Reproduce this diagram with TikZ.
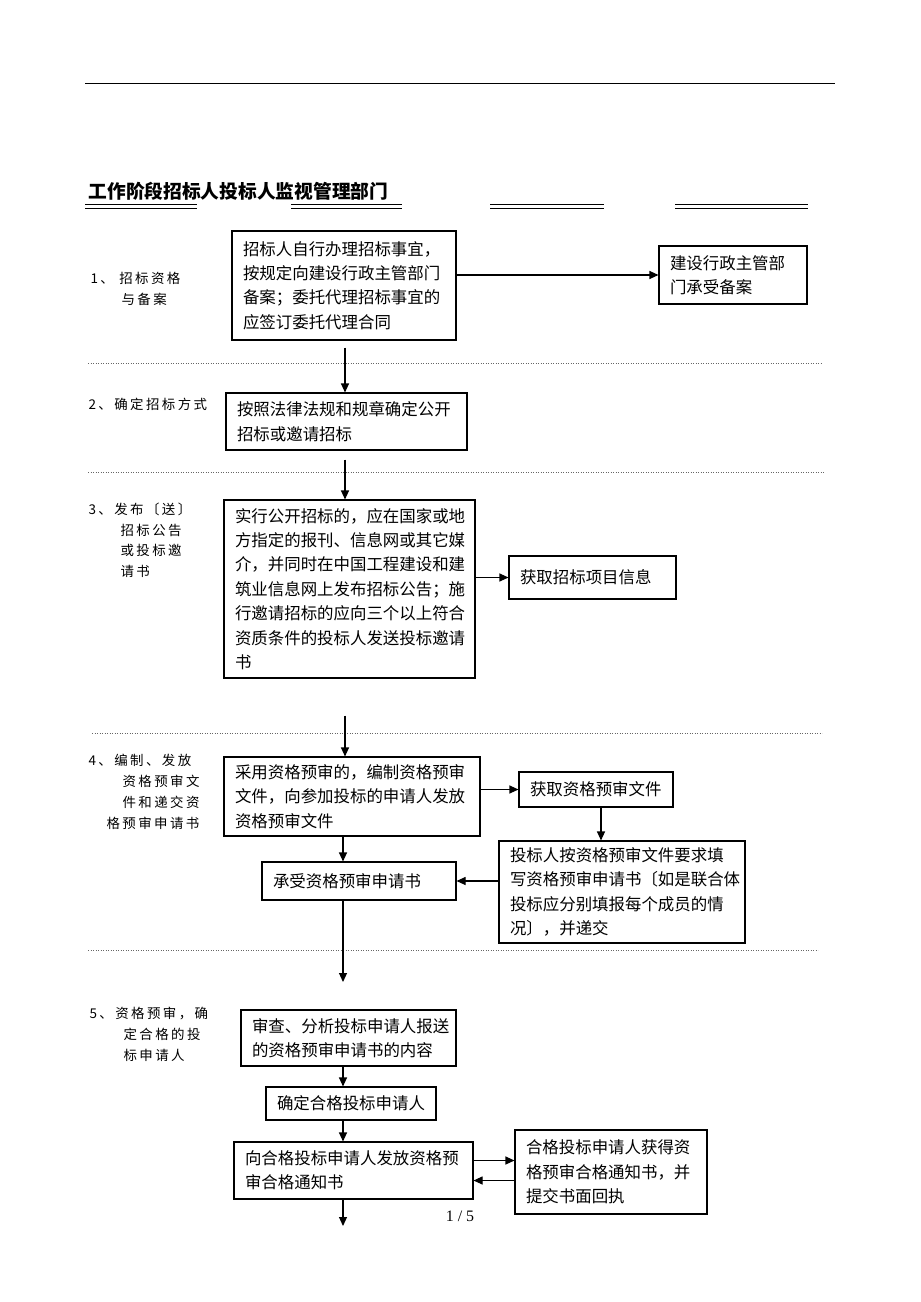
\documentclass[tikz,border=0pt]{standalone}
\usepackage{fontspec}
\setmainfont{Liberation Serif}
\newfontfamily\cjk{Noto Sans CJK SC}
\newfontfamily\cjklbl[LetterSpace=18]{Noto Sans CJK SC}
\usetikzlibrary{arrows.meta}
\begin{document}
\begin{tikzpicture}[x=1bp,y=-1bp,line width=1.1bp,
  box/.style={draw, rectangle, inner xsep=11bp, inner ysep=0pt, align=left,
    font=\cjk\fontsize{16.5}{24.5}\selectfont},
  lbl/.style={inner sep=0pt, anchor=north west, align=left,
    font=\cjklbl\fontsize{13.5}{21}\selectfont},
  sep/.style={line width=0.6bp, gray!80!black, dash pattern=on 1bp off 1.5bp},
  >={Triangle[length=9bp,width=8bp]}]
\fill[white] (0,0) rectangle (920,1302);
\useasboundingbox (0,0) rectangle (920,1302);
\draw[line width=0.8bp] (85,83) -- (835,83);
\node[anchor=base west, inner sep=0pt, font=\cjk\bfseries\fontsize{18.8}{20}\selectfont] (title) at (88,199) {工作阶段招标人投标人监视管理部门};
\foreach \xa/\xb in {85/197, 291/402, 490/604, 675/808} {
  \draw[line width=1.6bp] (\xa,204.5) -- (\xb,204.5);
  \draw[line width=0.9bp] (\xa,208) -- (\xb,208);
}
\draw[sep] (88,363) -- (822,363);
\draw[sep] (88,472) -- (825,472);
\draw[sep] (92,733) -- (822,733);
\draw[sep] (88,950) -- (818,950);
\node[lbl] (lb1) at (90,272) {1、 招标资格\\\hspace*{31bp}与备案};
\node[lbl] (lb2) at (88,398) {2、确定招标方式};
\node[lbl] (lb3) at (88,502) {3、发布〔送〕\\\hspace*{32bp}招标公告\\\hspace*{32bp}或投标邀\\\hspace*{32bp}请书};
\node[lbl] (lb4) at (88,754) {4、编制、发放\\\hspace*{34bp}资格预审文\\\hspace*{34bp}件和递交资\\\hspace*{18bp}格预审申请书};
\node[lbl] (lb5) at (89,1007) {5、资格预审，确\\\hspace*{34bp}定合格的投\\\hspace*{34bp}标申请人};
\node[box, text width=202bp, minimum height=109bp] (m1) at (344,285.5) {招标人自行办理招标事宜，\\按规定向建设行政主管部门\\备案；委托代理招标事宜的\\应签订委托代理合同};
\node[box, text width=126bp, minimum height=58bp] (r1) at (733,275) {建设行政主管部\\门承受备案};
\node[box, text width=219bp, minimum height=57bp] (m2) at (346.5,421.5) {按照法律法规和规章确定公开\\招标或邀请招标};
\node[box, text width=229bp, minimum height=178bp] (m3) at (349.5,589) {实行公开招标的，应在国家或地\\方指定的报刊、信息网或其它媒\\介，并同时在中国工程建设和建\\筑业信息网上发布招标公告；施\\行邀请招标的应向三个以上符合\\资质条件的投标人发送投标邀请\\书};
\node[box, text width=145bp, minimum height=43bp] (r3) at (592.5,577.5) {获取招标项目信息};
\node[box, text width=234bp, minimum height=79bp] (m4) at (352,796.5) {采用资格预审的，编制资格预审\\文件，向参加投标的申请人发放\\资格预审文件};
\node[box, text width=132bp, minimum height=35bp] (r4a) at (596,789.5) {获取资格预审文件};
\node[box, text width=224bp, minimum height=102bp] (r4b) at (622,892) {投标人按资格预审文件要求填\\写资格预审申请书〔如是联合体\\投标应分别填报每个成员的情\\况〕，并递交};
\node[box, text width=172bp, minimum height=38bp] (c4) at (359,881) {承受资格预审申请书};
\node[box, text width=193bp, minimum height=56bp] (m5) at (348.5,1038) {审查、分析投标申请人报送\\的资格预审申请书的内容};
\node[box, text width=148bp, minimum height=33bp] (m6) at (351,1103.5) {确定合格投标申请人};
\node[box, text width=217bp, minimum height=57bp] (m7) at (353.5,1170.5) {向合格投标申请人发放资格预\\审合格通知书};
\node[box, text width=170bp, minimum height=84bp] (r5) at (611,1172) {合格投标申请人获得资\\格预审合格通知书，并\\提交书面回执};
\node[inner sep=0pt, font=\fontsize{16}{18}\selectfont] (pg) at (460,1216) {1 / 5};
\coordinate (sa) at (345,0);
\coordinate (sb) at (343,0);
\coordinate (sc) at (601,0);
\coordinate (e4) at (343,982);
\coordinate (e5) at (343,1226);
\draw[->] (m1.east |- r1.west) -- (r1.west);
\draw[->, shorten <=7bp] (m1.south -| sa) -- (m2.north -| sa);
\draw[->, shorten <=9bp] (m2.south -| sa) -- (m3.north -| sa);
\draw[->] (m3.east |- r3.west) -- (r3.west);
\draw[->, shorten <=37bp] (m3.south -| sa) -- (m4.north -| sa);
\draw[->] (m4.east |- r4a.west) -- (r4a.west);
\draw[->] (r4a.south -| sc) -- (r4b.north -| sc);
\draw[->] (m4.south -| sb) -- (c4.north -| sb);
\draw[->] (r4b.west |- c4.east) -- (c4.east);
\draw[->] (c4.south -| sb) -- (e4);
\draw[->] (m5.south -| sb) -- (m6.north -| sb);
\draw[->] (m6.south -| sb) -- (m7.north -| sb);
\draw[->] ([yshift=10bp]m7.east) -- ([yshift=10bp]m7.east -| r5.west);
\draw[->] ([yshift=-10bp]m7.east -| r5.west) -- ([yshift=-10bp]m7.east);
\draw[->] (m7.south -| sb) -- (e5);
\end{tikzpicture}
\end{document}
